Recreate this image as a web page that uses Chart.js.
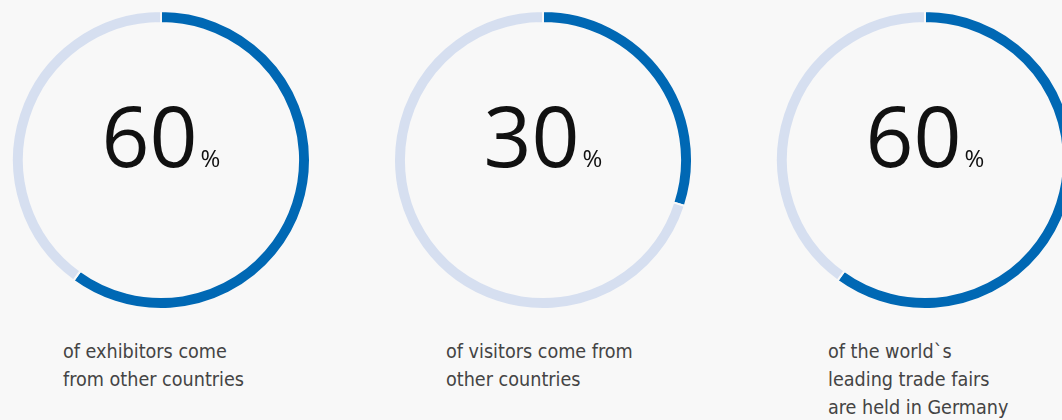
<!DOCTYPE html>
<html>
<head>
<meta charset="utf-8">
<script src="https://cdn.jsdelivr.net/npm/chart.js@4"></script>
<style>
  html, body { margin: 0; padding: 0; background: #f8f8f8; width: 1062px; height: 420px; overflow: hidden; }
  .ring { position: absolute; top: 10px; width: 300px; height: 300px; }
  .caption { position: absolute; top: 338px; font-family: 'DejaVu Sans Condensed', 'DejaVu Sans', sans-serif; font-stretch: condensed; font-size: 19.6px; line-height: 28px; color: #444; white-space: pre; }
</style>
</head>
<body>
<div class="ring" style="left:11px"><canvas id="ring0"></canvas></div>
<div class="ring" style="left:393px"><canvas id="ring1"></canvas></div>
<div class="ring" style="left:775px"><canvas id="ring2"></canvas></div>
<div class="caption" id="cap0" style="left:63px"></div>
<div class="caption" id="cap1" style="left:446px"></div>
<div class="caption" id="cap2" style="left:828px"></div>
<script>
// Share values (percent) shown in each ring
const shares = [60, 30, 60];
const captions = [
    ['of exhibitors come', 'from other countries'],
    ['of visitors come from', 'other countries'],
    ['of the world`s', 'leading trade fairs', 'are held in Germany']
];

const blue = '#0068b4';
const pale = '#d6dff0';
const bg = '#f8f8f8';

// Draws the big number plus small % sign in the middle of the ring
const centerText = {
    id: 'centerText',
    afterDraw(chart, args, opts) {
        const ctx = chart.ctx;
        const arc = chart.getDatasetMeta(0).data[0];
        const cx = arc.x, cy = arc.y;
        const num = String(opts.value);
        const bigFont = "400 84px 'Open Sans', sans-serif";
        const smallFont = "400 24px 'Open Sans', sans-serif";
        ctx.save();
        ctx.fillStyle = '#111';
        ctx.textBaseline = 'alphabetic';
        ctx.textAlign = 'left';
        ctx.font = bigFont;
        const wNum = ctx.measureText(num).width;
        ctx.font = smallFont;
        const wPct = ctx.measureText('%').width;
        const gap = 3;
        const x0 = cx - (wNum + gap + wPct) / 2;
        ctx.font = bigFont;
        ctx.fillText(num, x0, cy + 7);
        ctx.font = smallFont;
        ctx.fillText('%', x0 + wNum + gap, cy + 7);
        ctx.restore();
    }
};

shares.forEach((v, i) => {
    new Chart(document.getElementById('ring' + i), {
        type: 'doughnut',
        data: {
            labels: ['share', 'rest'],
            datasets: [{
                data: [v, 100 - v],
                backgroundColor: [blue, pale],
                borderColor: bg,
                borderWidth: 2,
                hoverOffset: 0
            }]
        },
        options: {
            responsive: true,
            maintainAspectRatio: false,
            animation: false,
            cutout: '92%',
            events: [],
            plugins: {
                legend: { display: false },
                tooltip: { enabled: false },
                centerText: { value: v }
            }
        },
        plugins: [centerText]
    });
    document.getElementById('cap' + i).textContent = captions[i].join('\n');
});
</script>
</body>
</html>
